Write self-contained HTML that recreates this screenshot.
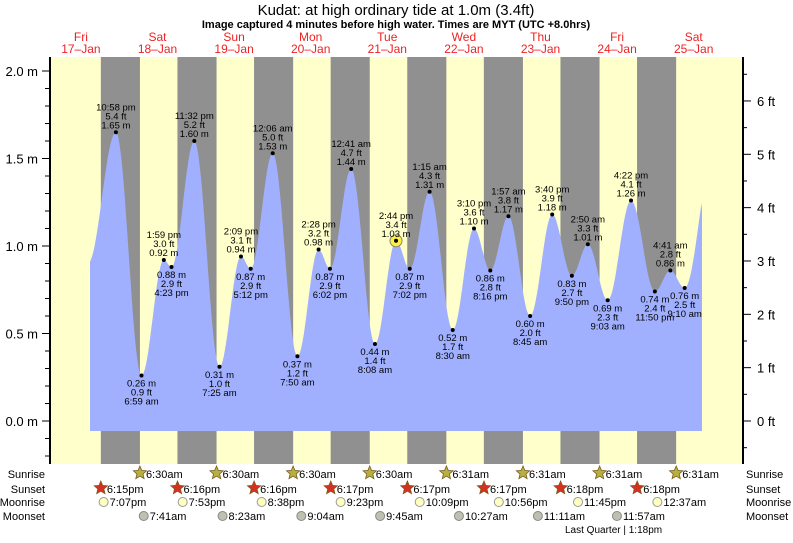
<!DOCTYPE html>
<html><head><meta charset="utf-8"><style>
body{margin:0;background:#fff;width:793px;height:538px;overflow:hidden;font-family:"Liberation Sans",sans-serif}
</style></head><body>
<svg id="s" width="793" height="538" xmlns="http://www.w3.org/2000/svg" font-family="Liberation Sans, sans-serif"></svg>
<script>
const S=document.getElementById('s');let h='';
const X0=42.6,DW=76.6,L=50,R=743,T=57,B=464;
const x=(d,hr,mn)=>X0+(d-17+(hr+mn/60)/24)*DW;
const y=m=>421-m*175;
h+=`<rect x="${L}" y="${T}" width="${R-L}" height="${B-T}" fill="#ffffcc"/>`;
for(let d=17;d<=24;d++){const a=x(d,18,15),b=x(d+1,6,30);const x1=Math.max(a,L),x2=Math.min(b,R);if(x2>x1)h+=`<rect x="${x1}" y="${T}" width="${x2-x1}" height="${B-T}" fill="#909090"/>`;}
function t(s){let m=s.match(/(\d+):(\d+)(am|pm)/);let hr=+m[1]%12;if(m[3]=='pm')hr+=12;return [hr,+m[2]];}
const E=[[17,'10:58pm',1.65,'5.4'],[18,'6:59am',0.26,'0.9'],[18,'1:59pm',0.92,'3.0'],[18,'4:23pm',0.88,'2.9'],[18,'11:32pm',1.60,'5.2'],
[19,'7:25am',0.31,'1.0'],[19,'2:09pm',0.94,'3.1'],[19,'5:12pm',0.87,'2.9'],[20,'12:06am',1.53,'5.0'],[20,'7:50am',0.37,'1.2'],[20,'2:28pm',0.98,'3.2'],[20,'6:02pm',0.87,'2.9'],
[21,'12:41am',1.44,'4.7'],[21,'8:08am',0.44,'1.4'],[21,'2:44pm',1.03,'3.4'],[21,'7:02pm',0.87,'2.9'],[22,'1:15am',1.31,'4.3'],[22,'8:30am',0.52,'1.7'],[22,'3:10pm',1.10,'3.6'],[22,'8:16pm',0.86,'2.8'],
[23,'1:57am',1.17,'3.8'],[23,'8:45am',0.60,'2.0'],[23,'3:40pm',1.18,'3.9'],[23,'9:50pm',0.83,'2.7'],[24,'2:50am',1.01,'3.3'],[24,'9:03am',0.69,'2.3'],[24,'4:22pm',1.26,'4.1'],[24,'11:50pm',0.74,'2.4'],
[25,'4:41am',0.86,'2.8'],[25,'9:10am',0.76,'2.5']];
let P=E.map(e=>{let [a,b]=t(e[1]);return [x(e[0],a,b),e[2]];});
let pre=[P[0][0]-28,0.90],post=[P[P.length-1][0]+28,1.5];
let all=[pre,...P,post];let path=`M90,431 L90,${y(0.91)} `;
for(let i=0;i<all.length-1;i++){const [xa,ha]=all[i],[xb,hb]=all[i+1];for(let k=0;k<=20;k++){const xx=xa+(xb-xa)*k/20;if(xx<90||xx>702)continue;const hh=ha+(hb-ha)*(1-Math.cos(Math.PI*k/20))/2;path+=`L${xx.toFixed(1)},${y(hh).toFixed(1)} `;}}
path+=`L702,${y(1.21)} L702,431 Z`;
h+=`<path d="${path}" fill="#a0b0ff"/>`;
E.forEach((e,i)=>{const [px,m]=P[i];const py=y(m);const hi=(i==0)||(i<E.length-1?m>E[i+1][2]:m>E[i-1][2]);
const tm=e[1].replace(/(am|pm)/,' $1');
if(e[1]=='2:44pm')h+=`<circle cx="${px}" cy="${py}" r="6" fill="#ffee44" stroke="#886" stroke-width="1"/>`;
h+=`<circle cx="${px}" cy="${py}" r="2" fill="#000"/>`;
const st=`font-size="9.5" text-anchor="middle" fill="#000"`;
if(hi){h+=`<text x="${px}" y="${py-22}" ${st}>${tm}</text><text x="${px}" y="${py-13}" ${st}>${e[3]} ft</text><text x="${px}" y="${py-4}" ${st}>${m.toFixed(2)} m</text>`;}
else{h+=`<text x="${px}" y="${py+11}" ${st}>${m.toFixed(2)} m</text><text x="${px}" y="${py+20}" ${st}>${e[3]} ft</text><text x="${px}" y="${py+29}" ${st}>${tm}</text>`;}
});
h+=`<line x1="${L}" y1="${T}" x2="${L}" y2="${B}" stroke="#000" stroke-width="2"/><line x1="${R}" y1="${T}" x2="${R}" y2="${B}" stroke="#000" stroke-width="2"/>`;
for(let m=-0.2;m<=2.05;m+=0.1){const yy=y(m);if(yy<T||yy>B)continue;const maj=Math.abs(m*2-Math.round(m*2))<0.01;h+=`<line x1="${maj?42:45}" y1="${yy}" x2="${L}" y2="${yy}" stroke="#000"/>`;if(maj)h+=`<text x="38" y="${yy+5}" font-size="13" text-anchor="end">${Math.abs(m).toFixed(1)} m</text>`;}
for(let f=-0.5;f<=6.6;f+=0.5){const yy=y(f*0.3048);if(yy<T||yy>B)continue;const maj=Math.abs(f-Math.round(f))<0.01;h+=`<line x1="${R}" y1="${yy}" x2="${maj?751:747}" y2="${yy}" stroke="#000"/>`;if(maj)h+=`<text x="757" y="${yy+5}" font-size="13">${Math.round(f)} ft</text>`;}
h+=`<text x="396" y="15" font-size="15" text-anchor="middle">Kudat: at high  ordinary tide at 1.0m (3.4ft)</text>`;
h+=`<text x="396" y="28" font-size="11" font-weight="bold" text-anchor="middle">Image captured 4 minutes before high water. Times are MYT (UTC +8.0hrs)</text>`;
const dn=['Fri','Sat','Sun','Mon','Tue','Wed','Thu','Fri','Sat'];
for(let i=0;i<9;i++){const cx=x(17+i,12,0);h+=`<text x="${cx}" y="41" font-size="12" fill="#ee2222" text-anchor="middle">${dn[i]}</text><text x="${cx}" y="53" font-size="12" fill="#ee2222" text-anchor="middle">${17+i}–Jan</text>`;}
const rows=[['Sunrise',478],['Sunset',493],['Moonrise',506],['Moonset',520]];
rows.forEach(r=>{h+=`<text x="45" y="${r[1]}" font-size="11" text-anchor="end">${r[0]}</text><text x="746" y="${r[1]}" font-size="11">${r[0]}</text>`;});
function star(cx,cy,fill){let p='';for(let k=0;k<10;k++){const a=-Math.PI/2+k*Math.PI/5,rr=k%2?3.2:7;p+=(cx+rr*Math.cos(a)).toFixed(1)+','+(cy+rr*Math.sin(a)).toFixed(1)+' ';}return `<polygon points="${p}" fill="${fill}" stroke="#7a5a20" stroke-width="0.8"/>`;}
const sr=['6:30am','6:30am','6:30am','6:30am','6:31am','6:31am','6:31am','6:31am'];
const ss=['6:15pm','6:16pm','6:16pm','6:17pm','6:17pm','6:17pm','6:18pm','6:18pm'];
const mr=['7:07pm','7:53pm','8:38pm','9:23pm','10:09pm','10:56pm','11:45pm','12:37am'];
const ms=['7:41am','8:23am','9:04am','9:45am','10:27am','11:11am','11:57am'];
for(let i=0;i<8;i++){let [a,b]=t(sr[i]);let cx=x(18+i,a,b);h+=star(cx,473,'#b5b040')+`<text x="${cx+6}" y="478" font-size="11">${sr[i]}</text>`;
[a,b]=t(ss[i]);cx=x(17+i,a,b);h+=star(cx,488,'#d83020')+`<text x="${cx+6}" y="493" font-size="11">${ss[i]}</text>`;
[a,b]=t(mr[i]);cx=x(17+i+(i==7?1:0),a,b);h+=`<circle cx="${cx}" cy="502" r="4.5" fill="#ffffc0" stroke="#999"/><text x="${cx+6}" y="506" font-size="11">${mr[i]}</text>`;
if(i<7){[a,b]=t(ms[i]);cx=x(18+i,a,b);h+=`<circle cx="${cx}" cy="516" r="4.5" fill="#c0c0b0" stroke="#888"/><text x="${cx+6}" y="520" font-size="11">${ms[i]}</text>`;}}
h+=`<text x="565" y="533" font-size="10">Last Quarter | 1:18pm</text>`;
S.innerHTML=h;
</script>
</body></html>
